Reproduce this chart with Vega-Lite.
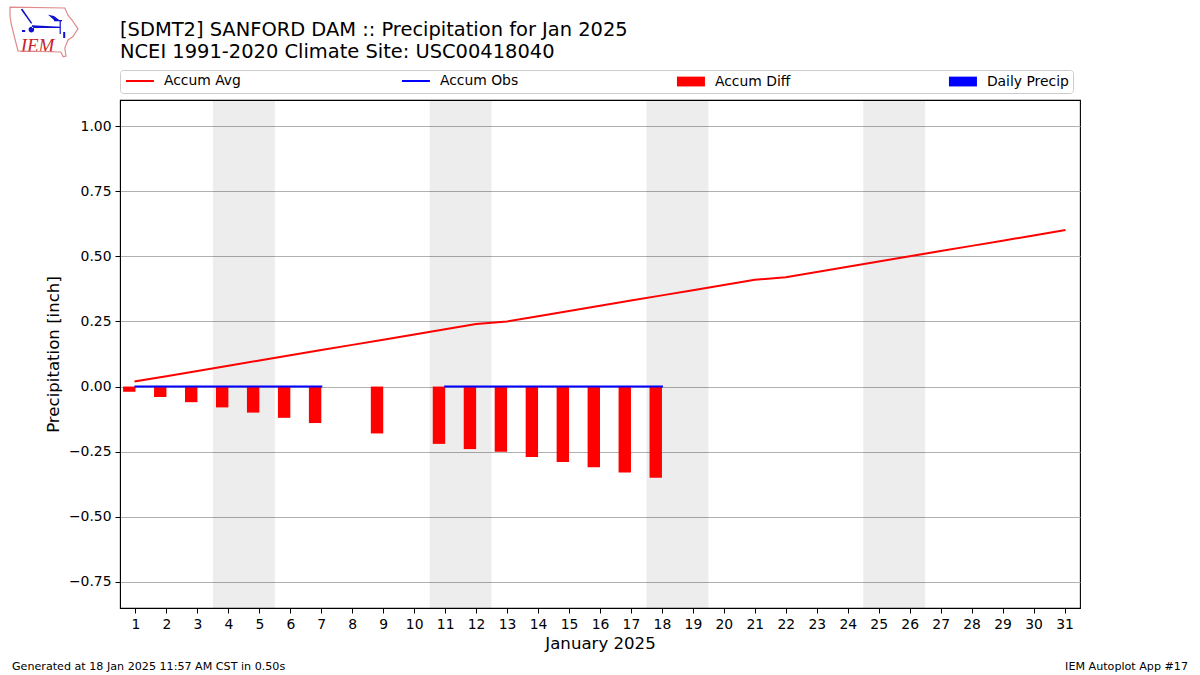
{
"$schema":"https://vega.github.io/schema/vega-lite/v6.json",
"width":960,"height":508,
"autosize":{"type":"none"},
"padding":{"left":120,"top":100,"right":120,"bottom":67},
"background":"white",
"config":{"font":"DejaVu Sans","view":{"stroke":"black","strokeWidth":1.1}},
"title":{"text":["[SDMT2] SANFORD DAM :: Precipitation for Jan 2025","NCEI 1991-2020 Climate Site: USC00418040"],"anchor":"start","frame":"group","fontSize":19.45,"fontWeight":"normal","color":"black","lineHeight":22,"offset":0,"dy":58},
"data":{"values":[
{"day":1,"series":"Accum Avg","value":0.02},{"day":2,"series":"Accum Avg","value":0.04},{"day":3,"series":"Accum Avg","value":0.06},{"day":4,"series":"Accum Avg","value":0.08},{"day":5,"series":"Accum Avg","value":0.10},{"day":6,"series":"Accum Avg","value":0.12},{"day":7,"series":"Accum Avg","value":0.14},{"day":8,"series":"Accum Avg","value":0.16},{"day":9,"series":"Accum Avg","value":0.18},{"day":10,"series":"Accum Avg","value":0.20},{"day":11,"series":"Accum Avg","value":0.22},{"day":12,"series":"Accum Avg","value":0.24},{"day":13,"series":"Accum Avg","value":0.25},{"day":14,"series":"Accum Avg","value":0.27},{"day":15,"series":"Accum Avg","value":0.29},{"day":16,"series":"Accum Avg","value":0.31},{"day":17,"series":"Accum Avg","value":0.33},{"day":18,"series":"Accum Avg","value":0.35},{"day":19,"series":"Accum Avg","value":0.37},{"day":20,"series":"Accum Avg","value":0.39},{"day":21,"series":"Accum Avg","value":0.41},{"day":22,"series":"Accum Avg","value":0.42},{"day":23,"series":"Accum Avg","value":0.44},{"day":24,"series":"Accum Avg","value":0.46},{"day":25,"series":"Accum Avg","value":0.48},{"day":26,"series":"Accum Avg","value":0.50},{"day":27,"series":"Accum Avg","value":0.52},{"day":28,"series":"Accum Avg","value":0.54},{"day":29,"series":"Accum Avg","value":0.56},{"day":30,"series":"Accum Avg","value":0.58},{"day":31,"series":"Accum Avg","value":0.60},
{"day":1,"series":"Accum Obs","value":0},{"day":2,"series":"Accum Obs","value":0},{"day":3,"series":"Accum Obs","value":0},{"day":4,"series":"Accum Obs","value":0},{"day":5,"series":"Accum Obs","value":0},{"day":6,"series":"Accum Obs","value":0},{"day":7,"series":"Accum Obs","value":0},{"day":8,"series":"Accum Obs","value":null},{"day":9,"series":"Accum Obs","value":null},{"day":10,"series":"Accum Obs","value":null},{"day":11,"series":"Accum Obs","value":0},{"day":12,"series":"Accum Obs","value":0},{"day":13,"series":"Accum Obs","value":0},{"day":14,"series":"Accum Obs","value":0},{"day":15,"series":"Accum Obs","value":0},{"day":16,"series":"Accum Obs","value":0},{"day":17,"series":"Accum Obs","value":0},{"day":18,"series":"Accum Obs","value":0},
{"day":1,"series":"Accum Diff","value":-0.02},{"day":2,"series":"Accum Diff","value":-0.04},{"day":3,"series":"Accum Diff","value":-0.06},{"day":4,"series":"Accum Diff","value":-0.08},{"day":5,"series":"Accum Diff","value":-0.10},{"day":6,"series":"Accum Diff","value":-0.12},{"day":7,"series":"Accum Diff","value":-0.14},{"day":9,"series":"Accum Diff","value":-0.18},{"day":11,"series":"Accum Diff","value":-0.22},{"day":12,"series":"Accum Diff","value":-0.24},{"day":13,"series":"Accum Diff","value":-0.25},{"day":14,"series":"Accum Diff","value":-0.27},{"day":15,"series":"Accum Diff","value":-0.29},{"day":16,"series":"Accum Diff","value":-0.31},{"day":17,"series":"Accum Diff","value":-0.33},{"day":18,"series":"Accum Diff","value":-0.35},
{"day":1,"series":"Daily Precip","value":0},{"day":18,"series":"Daily Precip","value":0}
]},
"encoding":{"x":{"field":"day","type":"quantitative","scale":{"domain":[0.5,31.5],"nice":false,"zero":false,"padding":0},
   "axis":{"values":[1,2,3,4,5,6,7,8,9,10,11,12,13,14,15,16,17,18,19,20,21,22,23,24,25,26,27,28,29,30,31],"format":"d","grid":false,"title":"January 2025","titleFontSize":16.6,"titleFontWeight":"normal","titleColor":"black","titlePadding":5,"labelFontSize":13.9,"labelColor":"black","tickColor":"black","tickSize":5,"tickWidth":1,"domainColor":"black","labelPadding":4,"labelOverlap":false,"labelFlush":false}}},
"layer":[
{"data":{"values":[{"day":3.5,"end":5.5},{"day":10.5,"end":12.5},{"day":17.5,"end":19.5},{"day":24.5,"end":26.5}]},
 "mark":{"type":"rect","fill":"#000000","opacity":0.07},
 "encoding":{"x2":{"field":"end"}}},
{"transform":[{"filter":"datum.series==='Accum Diff'||datum.series==='Daily Precip'"}],
 "mark":{"type":"bar","width":12.4,"xOffset":-6.2},
 "encoding":{
  "y":{"field":"value","type":"quantitative","scale":{"domain":[-0.85,1.1],"nice":false,"zero":false,"padding":0},
   "axis":{"values":[-0.75,-0.5,-0.25,0,0.25,0.5,0.75,1],"format":".2f","grid":true,"gridColor":"#b0b0b0","gridWidth":1,"title":"Precipitation [inch]","titleFontSize":16.6,"titleFontWeight":"normal","titleColor":"black","titlePadding":7,"labelFontSize":13.9,"labelColor":"black","tickColor":"black","tickSize":5,"tickWidth":1,"domainColor":"black","labelPadding":4}},
  "color":{"field":"series","type":"nominal","scale":{"domain":["Accum Avg","Accum Obs","Accum Diff","Daily Precip"],"range":["#ff0000","#0000ff","#ff0000","#0000ff"]},
   "legend":{"title":null,"orient":"none","legendX":0,"legendY":-30,"direction":"horizontal","columns":4,"gridAlign":"each","columnPadding":156,"fillColor":"white","strokeColor":"#cccccc","cornerRadius":3,"padding":4,"labelFontSize":13.9,"labelColor":"black","symbolSize":196,"labelOffset":17,"symbolOffset":9,
    "encode":{"symbols":{"update":{
      "shape":{"signal":"datum.value==='Accum Diff'||datum.value==='Daily Precip'?'M-2,-0.7H2V0.7H-2Z':'M-2,-0.56L-2,-0.56M-2,0.56L-2,0.56M-2,0H2'"},
      "fill":{"signal":"datum.value==='Accum Diff'?'#ff0000':datum.value==='Daily Precip'?'#0000ff':'transparent'"},
      "stroke":{"signal":"datum.value==='Accum Avg'||datum.value==='Accum Diff'?'#ff0000':'#0000ff'"},
      "strokeWidth":{"signal":"datum.value==='Accum Diff'||datum.value==='Daily Precip'?0:2"},"opacity":{"value":1}}}}}}}},
{"transform":[{"filter":"datum.series==='Accum Avg'||datum.series==='Accum Obs'"}],
 "mark":{"type":"line","strokeWidth":2,"strokeCap":"square"},
 "encoding":{"y":{"field":"value","type":"quantitative"},"color":{"field":"series","type":"nominal"}}},
{"data":{"values":[{"day":0.5,"value":-0.85,"label":"Generated at 18 Jan 2025 11:57 AM CST in 0.50s"}]},
 "mark":{"type":"text","align":"left","baseline":"alphabetic","dx":-108,"dy":62,"fontSize":11.13,"color":"black"},
 "encoding":{"y":{"field":"value","type":"quantitative"},"text":{"field":"label"}}},
{"data":{"values":[{"day":31.5,"value":-0.85,"label":"IEM Autoplot App #17"}]},
 "mark":{"type":"text","align":"right","baseline":"alphabetic","dx":108,"dy":62,"fontSize":11.13,"color":"black"},
 "encoding":{"y":{"field":"value","type":"quantitative"},"text":{"field":"label"}}},
{"data":{"values":[{"day":0.5,"value":1.1,"label":"IEM"}]},
 "mark":{"type":"text","align":"center","baseline":"alphabetic","dx":-82.5,"dy":-48,"fontSize":19,"font":"Liberation Serif","fontStyle":"italic","color":"#c8242a"},
 "encoding":{"y":{"field":"value","type":"quantitative"},"text":{"field":"label"}}},
{"data":{"values":[{"day":0.5,"value":1.1}]},
 "mark":{"type":"point","filled":false,"stroke":"#e08a8a","strokeWidth":1.2,"size":6400,"opacity":1,"xOffset":-76,"yOffset":-68,
  "shape":"M-0.85,-0.62 L0.52,-0.6 L0.6,-0.42 L0.7,-0.3 L0.85,-0.08 L0.72,0.12 L0.6,0.2 L0.52,0.4 L0.55,0.6 L0.48,0.62 L0.42,0.5 L-0.65,0.47 L-0.72,0.2 L-0.82,-0.2 L-0.85,-0.4 Z"},
 "encoding":{"y":{"field":"value","type":"quantitative"}}},
{"data":{"values":[{"day":0.5,"value":1.1}]},
 "mark":{"type":"point","filled":true,"fill":"#1010d0","opacity":1,"size":6400,"xOffset":-76,"yOffset":-68,
  "shape":"M-0.58,-0.56 L-0.32,-0.2 L-0.3,-0.23 L-0.54,-0.58 Z M-0.32,-0.13 A0.07,0.07 0 1 0 -0.31,-0.13 Z M-0.3,-0.17 L0.42,-0.13 L0.42,-0.1 L-0.3,-0.1 Z M0.1,-0.43 L0.25,-0.4 L0.42,-0.27 L0.25,-0.3 Z M0.25,-0.3 L0.45,-0.3 L0.45,-0.27 L0.25,-0.27 Z M0.39,-0.28 L0.42,-0.28 L0.42,0.05 L0.39,0.05 Z M0.48,0 L0.53,0 L0.53,0.15 L0.48,0.15 Z M-0.55,-0.05 L-0.47,-0.05 L-0.47,0 L-0.55,0 Z"},
 "encoding":{"y":{"field":"value","type":"quantitative"}}}
]
}
